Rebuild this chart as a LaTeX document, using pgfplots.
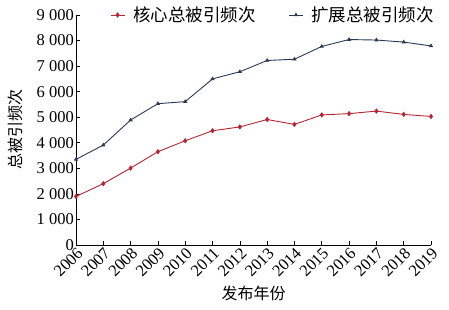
\documentclass[border=0pt]{standalone}
\usepackage{fontspec}
\setmainfont{Liberation Serif}
\newfontfamily\cjk{Noto Sans CJK SC}
\usepackage{pgfplots}
\pgfplotsset{compat=1.18}
\definecolor{cred}{RGB}{180,38,50}
\definecolor{cblue}{RGB}{42,58,86}
\begin{document}
\begin{tikzpicture}
\useasboundingbox (-76pt,-65pt) rectangle (373pt,245pt);
\begin{axis}[
  scale only axis,
  width=355pt, height=230pt,
  xmin=2006, xmax=2019, ymin=0, ymax=9000,
  axis lines=left,
  axis line style={-, line width=0.8pt},
  tick align=inside,
  major tick length=4pt,
  tick style={black, line width=0.6pt},
  xtick={2006,...,2019},
  xticklabels={2006,2007,2008,2009,2010,2011,2012,2013,2014,2015,2016,2017,2018,2019},
  ytick={0,1000,...,9000},
  /pgf/number format/.cd, 1000 sep={\ }, assume math mode=true, /pgfplots/.cd,
  x tick label style={rotate=45, anchor=north east, inner sep=1pt},
  y tick label style={inner sep=2pt},
  ticklabel style={font=\fontsize{16.5}{18}\selectfont},
  xlabel={\cjk 发布年份},
  ylabel={\cjk 总被引频次},
  label style={font=\fontsize{16}{18}\selectfont},
  xlabel style={yshift=-3pt},
  ylabel style={yshift=8pt},
  legend style={draw=none, fill=none, at={(0.555,1)}, anchor=center, font=\fontsize{17.5}{19}\selectfont\cjk,
    /tikz/every even column/.append style={column sep=31pt},
    /tikz/every odd column/.append style={column sep=6pt}},
  legend columns=2,
  legend image code/.code={\draw[#1] (0pt,0pt) -- (14pt,0pt); \draw[#1, mark repeat=1] plot coordinates {(7pt,0pt)};},
  clip=false,
]
\addplot[cred, line width=0.9pt, mark=diamond*, mark size=2pt] coordinates {
(2006,1900) (2007,2400) (2008,3010) (2009,3650) (2010,4080) (2011,4470) (2012,4620)
(2013,4910) (2014,4720) (2015,5090) (2016,5140) (2017,5240) (2018,5110) (2019,5030)};
\addlegendentry{核心总被引频次}
\addplot[cblue, line width=0.9pt, mark=triangle*, mark size=1.6pt] coordinates {
(2006,3350) (2007,3910) (2008,4890) (2009,5530) (2010,5610) (2011,6500) (2012,6780)
(2013,7220) (2014,7270) (2015,7770) (2016,8040) (2017,8020) (2018,7940) (2019,7790)};
\addlegendentry{扩展总被引频次}
\end{axis}
\end{tikzpicture}
\end{document}
